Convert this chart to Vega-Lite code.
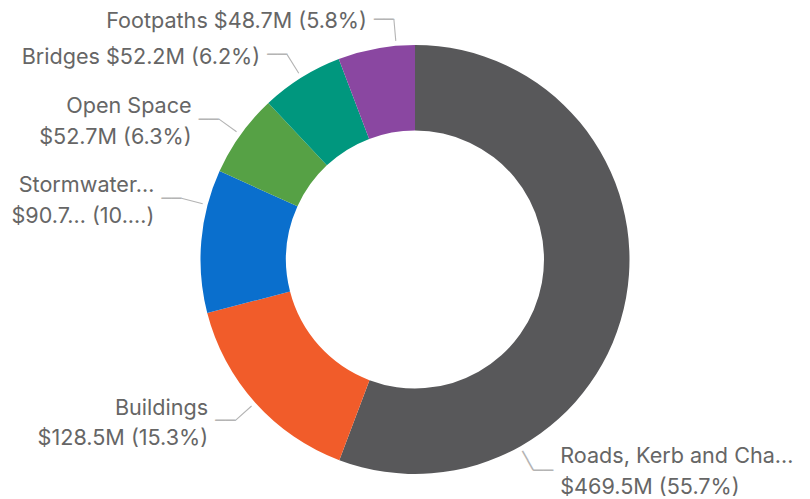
{
  "$schema": "https://vega.github.io/schema/vega-lite/v6.json",
  "width": 790,
  "height": 479,
  "padding": {"left": 20, "top": 20, "right": 0, "bottom": 0},
  "autosize": {"type": "none"},
  "background": "white",
  "config": {"view": {"stroke": null}},
  "data": {
    "values": [
      {"category": "Roads, Kerb and Channel", "value": 469.5, "order": 1, "label": "Roads, Kerb and Cha…\n$469.5M (55.7%)"},
      {"category": "Buildings", "value": 128.5, "order": 2, "label": "Buildings\n$128.5M (15.3%)"},
      {"category": "Stormwater", "value": 90.7, "order": 3, "label": "Stormwater…\n$90.7… (10.…)"},
      {"category": "Open Space", "value": 52.7, "order": 4, "label": "Open Space\n$52.7M (6.3%)"},
      {"category": "Bridges", "value": 52.2, "order": 5, "label": "Bridges $52.2M (6.2%)"},
      {"category": "Footpaths", "value": 48.7, "order": 6, "label": "Footpaths $48.7M (5.8%)"}
    ]
  },
  "encoding": {
    "theta": {"field": "value", "type": "quantitative", "stack": true},
    "order": {"field": "order", "type": "quantitative", "sort": "ascending"}
  },
  "layer": [
    {
      "mark": {"type": "arc", "outerRadius": 214.5, "innerRadius": 129},
      "encoding": {
        "color": {
          "field": "category",
          "type": "nominal",
          "legend": null,
          "scale": {
            "domain": ["Roads, Kerb and Channel", "Buildings", "Stormwater", "Open Space", "Bridges", "Footpaths"],
            "range": ["#58585a", "#f15c2a", "#0a6fcd", "#56a145", "#00977e", "#8a47a1"]
          }
        }
      }
    },
    {
      "mark": {
        "type": "arc",
        "innerRadius": 219.5,
        "outerRadius": 241.5,
        "padAngle": 3.14,
        "fill": null,
        "fillOpacity": 0,
        "stroke": {"expr": "datum.category === 'Roads, Kerb and Channel' ? 'transparent' : '#b4b4b4'"},
        "strokeWidth": 1.1,
        "thetaOffset": {"expr": "datum.category === 'Stormwater' ? 0.17 : datum.category === 'Footpaths' ? 0.094 : 0"}
      },
      "encoding": {"detail": {"field": "category", "type": "nominal"}}
    },
    {
      "mark": {
        "type": "text",
        "radius": 219.5,
        "font": "DejaVu Sans",
        "fontSize": 18.3,
        "baseline": "alphabetic",
        "align": "left",
        "dy": 6.33,
        "fill": "#b4b4b4",
        "angle": {"expr": "(scale('theta', 0.5 * datum.value_start + 0.5 * datum.value_end) + 0.879) * 180 / PI - 90"},
        "thetaOffset": 0.879
      },
      "encoding": {
        "detail": {"field": "category", "type": "nominal"},
        "text": {
          "condition": {"test": "datum.category === 'Roads, Kerb and Channel'", "value": "──"},
          "value": ""
        }
      }
    },
    {
      "mark": {
        "type": "text",
        "radius": 241.5,
        "font": "DejaVu Sans",
        "fontSize": 16.6,
        "baseline": "alphabetic",
        "dy": 5.75,
        "fill": "#b4b4b4",
        "align": {"expr": "datum.category === 'Roads, Kerb and Channel' ? 'left' : 'right'"},
        "thetaOffset": {"expr": "datum.category === 'Roads, Kerb and Channel' ? 0.879 : datum.category === 'Stormwater' ? 0.17 : datum.category === 'Footpaths' ? 0.094 : 0"}
      },
      "encoding": {
        "detail": {"field": "category", "type": "nominal"},
        "text": {"value": "──"}
      }
    },
    {
      "mark": {
        "type": "text",
        "radius": 241.5,
        "font": "Inter",
        "fontSize": 21.6,
        "lineHeight": 30.5,
        "lineBreak": "\n",
        "baseline": "middle",
        "dy": {"expr": "datum.category === 'Roads, Kerb and Channel' ? -13 : datum.order <= 4 ? -11.8 : 3.5"},
        "fill": "#666666",
        "align": {"expr": "datum.category === 'Roads, Kerb and Channel' ? 'left' : 'right'"},
        "dx": {"expr": "datum.category === 'Roads, Kerb and Channel' ? 27 : -27"},
        "thetaOffset": {"expr": "datum.category === 'Roads, Kerb and Channel' ? 0.879 : datum.category === 'Stormwater' ? 0.17 : datum.category === 'Footpaths' ? 0.094 : 0"}
      },
      "encoding": {
        "detail": {"field": "category", "type": "nominal"},
        "text": {"field": "label", "type": "nominal"}
      }
    }
  ]
}
